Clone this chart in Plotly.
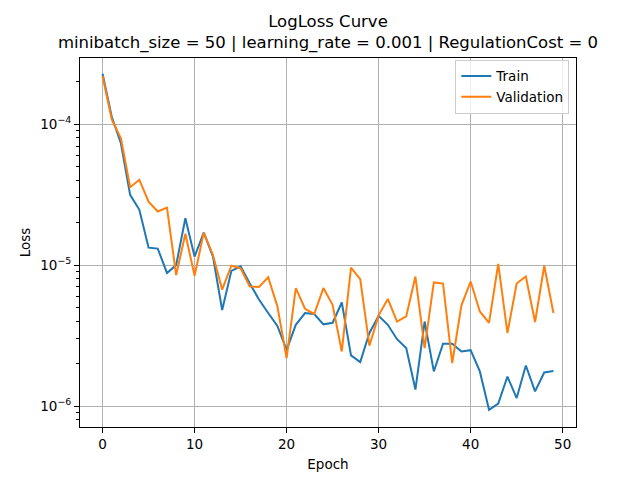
import numpy as np
import plotly.graph_objects as go

# loss values per epoch
epochs = list(range(50))
train_loss = [
    2.28e-4, 1.13e-4, 7.3e-5, 3.15e-5, 2.47e-5, 1.33e-5, 1.31e-5, 8.8e-6, 1.0e-5, 2.15e-5,
    1.15e-5, 1.7e-5, 1.15e-5, 4.8e-6, 9.1e-6, 9.8e-6, 7.4e-6, 5.7e-6, 4.57e-6, 3.7e-6,
    2.5e-6, 3.77e-6, 4.57e-6, 4.5e-6, 3.8e-6, 3.9e-6, 5.43e-6, 2.29e-6, 2.05e-6, 3.3e-6,
    4.37e-6, 3.77e-6, 2.98e-6, 2.58e-6, 1.31e-6, 3.98e-6, 1.76e-6, 2.77e-6, 2.77e-6, 2.44e-6,
    2.49e-6, 1.76e-6, 9.4e-7, 1.04e-6, 1.62e-6, 1.14e-6, 1.94e-6, 1.27e-6, 1.73e-6, 1.77e-6,
]
val_loss = [
    2.2e-4, 1.08e-4, 7.9e-5, 3.57e-5, 4.03e-5, 2.82e-5, 2.4e-5, 2.56e-5, 8.5e-6, 1.67e-5,
    8.4e-6, 1.7e-5, 1.18e-5, 6.7e-6, 9.9e-6, 9.5e-6, 7.05e-6, 7.0e-6, 8.2e-6, 5.1e-6,
    2.19e-6, 6.87e-6, 4.9e-6, 4.5e-6, 6.87e-6, 5.23e-6, 2.44e-6, 9.6e-6, 7.95e-6, 2.68e-6,
    4.4e-6, 5.75e-6, 3.98e-6, 4.33e-6, 8.3e-6, 2.58e-6, 7.53e-6, 7.4e-6, 2.02e-6, 5.18e-6,
    7.65e-6, 4.69e-6, 3.89e-6, 1.02e-5, 3.3e-6, 7.4e-6, 8.3e-6, 3.95e-6, 9.9e-6, 4.57e-6,
]

title = "LogLoss Curve<br>minibatch_size = 50 | learning_rate = 0.001 | RegulationCost = 0"
font = "DejaVu Sans"

fig = go.Figure()
fig.add_trace(go.Scatter(x=epochs, y=train_loss, mode="lines", name="Train",
                         line=dict(color="#1f77b4", width=2)))
fig.add_trace(go.Scatter(x=epochs, y=val_loss, mode="lines", name="Validation",
                         line=dict(color="#ff7f0e", width=2)))

# minor ticks like matplotlib's log locator
minor_vals = [m * 10.0 ** d for d in range(-7, -2) for m in range(2, 10)]

# the page body adds an 8px offset, so margins are shifted to compensate
fig.update_layout(
    width=640, height=480,
    paper_bgcolor="white", plot_bgcolor="white",
    font=dict(family=font, size=13.5, color="black"),
    margin=dict(l=72, r=72, t=50, b=61, autoexpand=False),
    title=dict(text=title, x=320 / 640, xref="container", xanchor="center",
               y=1 - 19 / 480, yref="container", yanchor="top",
               font=dict(family=font, size=16.5, color="black")),
    showlegend=True,
    legend=dict(x=0.9865, y=0.995, xanchor="right", yanchor="top",
                bgcolor="rgba(255,255,255,0.8)", bordercolor="#cccccc", borderwidth=1,
                font=dict(family=font, size=13.5), itemwidth=30),
)
fig.update_xaxes(
    range=[-2.45, 51.45], tickvals=[0, 10, 20, 30, 40, 50], automargin=False,
    showgrid=True, gridcolor="#b0b0b0", gridwidth=1,
    showline=True, linecolor="black", linewidth=1, mirror=True,
    ticks="outside", ticklen=5, tickcolor="black", zeroline=False,
    title=dict(text="Epoch", font=dict(family=font, size=13.5), standoff=8),
)
fig.update_yaxes(
    type="log", range=[np.log10(7.1e-7), np.log10(2.95e-4)], automargin=False,
    tickvals=[1e-6, 1e-5, 1e-4],
    ticktext=["10<sup>−6</sup>", "10<sup>−5</sup>", "10<sup>−4</sup>"],
    showgrid=True, gridcolor="#b0b0b0", gridwidth=1,
    showline=True, linecolor="black", linewidth=1, mirror=True,
    ticks="outside", ticklen=5, tickcolor="black", zeroline=False,
    minor=dict(tickvals=minor_vals, ticks="outside", ticklen=3, tickcolor="black", showgrid=False),
    title=dict(text="Loss", font=dict(family=font, size=13.5), standoff=6),
)

fig.write_html("out.html")
